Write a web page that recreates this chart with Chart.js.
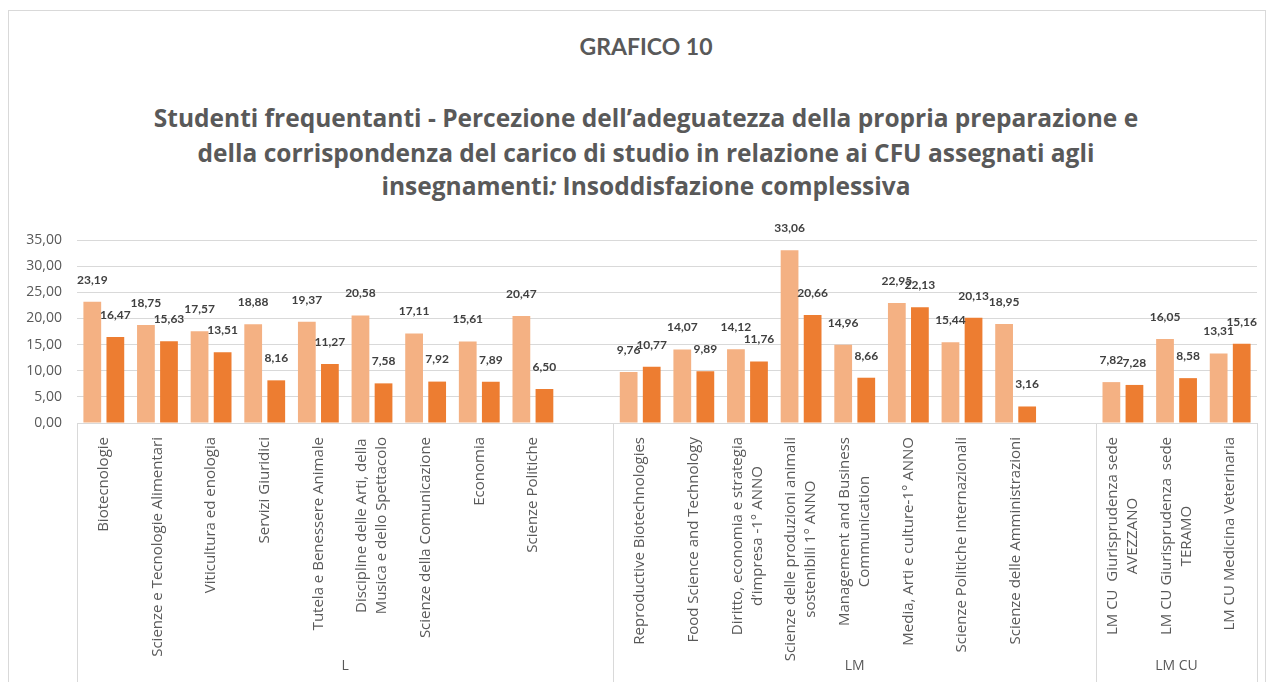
<!DOCTYPE html>
<html lang="it">
<head>
<meta charset="UTF-8">
<title>Grafico 10</title>
<script src="https://cdn.jsdelivr.net/npm/chart.js@4"></script>
<style>
  body { margin: 0; width: 1273px; height: 682px; overflow: hidden; background: #fff; font-family: Lato, sans-serif; }
  #frame { position: absolute; left: 8px; top: 10px; width: 1258px; height: 700px; border: 1px solid #d9d9d9; box-sizing: border-box; }
  .t { position: absolute; left: 646px; transform: translateX(-50%); white-space: nowrap; font-weight: bold; color: #595959; font-size: 23px; line-height: 1.2; }
  .m { font-family: "Open Sans", sans-serif; font-size: 24.5px; }
  #wrap { position: absolute; left: 9px; top: 215px; width: 1255px; height: 467px; }
</style>
</head>
<body>
<div id="frame"></div>
<div class="t" style="top:33px">GRAFICO 10</div>
<div class="t m" style="top:103px">Studenti frequentanti - Percezione dell’adeguatezza della propria preparazione e</div>
<div class="t m" style="top:138px">della corrispondenza del carico di studio in relazione ai CFU assegnati agli</div>
<div class="t m" style="top:171px">insegnamenti<i>:</i> Insoddisfazione complessiva</div>
<div id="wrap"><canvas id="chart" width="1255" height="467"></canvas></div>

<script>
// groups of the category axis
const groups = ['L', 'LM', 'LM CU'];

const catL = [
  'Biotecnologie',
  'Scienze e Tecnologie Alimentari',
  'Viticultura ed enologia',
  'Servizi Giuridici',
  'Tutela e Benessere Animale',
  ['Discipline delle Arti, della', 'Musica e dello Spettacolo'],
  'Scienze della Comunicazione',
  'Economia',
  'Scienze Politiche'
];
const catLM = [
  'Reproductive Biotechnologies',
  'Food Science and Technology',
  ['Diritto, economia e strategia', 'd’impresa -1° ANNO'],
  ['Scienze delle produzioni animali', 'sostenibili 1° ANNO'],
  ['Management and Business', 'Communication'],
  'Media, Arti e culture-1° ANNO',
  'Scienze Politiche Internazionali',
  'Scienze delle Amministrazioni'
];
const catLMCU = [
  ['LM CU  Giurisprudenza sede', 'AVEZZANO'],
  ['LM CU Giurisprudenza  sede', 'TERAMO'],
  'LM CU Medicina Veterinaria'
];

// light orange series
const serie1L = [23.19, 18.75, 17.57, 18.88, 19.37, 20.58, 17.11, 15.61, 20.47];
const serie1LM = [9.76, 14.07, 14.12, 33.06, 14.96, 22.95, 15.44, 18.95];
const serie1LMCU = [7.82, 16.05, 13.31];
// dark orange series
const serie2L = [16.47, 15.63, 13.51, 8.16, 11.27, 7.58, 7.92, 7.89, 6.50];
const serie2LM = [10.77, 9.89, 11.76, 20.66, 8.66, 22.13, 20.13, 3.16];
const serie2LMCU = [7.28, 8.58, 15.16];

const yTicks = [0, 5, 10, 15, 20, 25, 30, 35];

// flatten groups, leaving an empty slot after each group but the last
const groupCats = [catL, catLM, catLMCU];
const groupS1 = [serie1L, serie1LM, serie1LMCU];
const groupS2 = [serie2L, serie2LM, serie2LMCU];
const labels = [], s1 = [], s2 = [], groupRanges = [];
groups.forEach((g, gi) => {
  const start = labels.length;
  labels.push(...groupCats[gi]);
  s1.push(...groupS1[gi]);
  s2.push(...groupS2[gi]);
  if (gi < groups.length - 1) { labels.push(''); s1.push(null); s2.push(null); }
  groupRanges.push({ name: g, start: start, end: labels.length - 1 });
});

const fmt = v => v.toFixed(2).replace('.', ',');

// value labels above bars
const valueLabels = {
  id: 'valueLabels',
  afterDatasetsDraw(chart) {
    const ctx = chart.ctx;
    ctx.save();
    ctx.font = 'bold 12px Lato';
    ctx.fillStyle = '#404040';
    ctx.textAlign = 'center';
    ctx.textBaseline = 'middle';
    chart.data.datasets.forEach((ds, di) => {
      chart.getDatasetMeta(di).data.forEach((bar, i) => {
        const v = ds.data[i];
        if (v == null) return;
        ctx.fillText(fmt(v), bar.x, bar.y - 22);
      });
    });
    ctx.restore();
  }
};

// two-level category axis: rotated names, group boxes and group names
const groupAxis = {
  id: 'groupAxis',
  afterDraw(chart) {
    const ctx = chart.ctx, x = chart.scales.x, area = chart.chartArea;
    const step = x.getPixelForValue(1) - x.getPixelForValue(0);
    ctx.save();
    ctx.strokeStyle = '#d9d9d9';
    ctx.lineWidth = 1;
    const edges = [x.getPixelForValue(0) - step / 2].concat(groupRanges.map(r => x.getPixelForValue(r.end) + step / 2));
    edges.forEach(px => {
      const p = Math.round(px) + 0.5;
      ctx.beginPath();
      ctx.moveTo(p, area.bottom);
      ctx.lineTo(p, chart.height);
      ctx.stroke();
    });

    ctx.fillStyle = '#595959';
    ctx.font = '15px "Open Sans"';
    ctx.textAlign = 'center';
    ctx.textBaseline = 'middle';
    const lh = 20, top = area.bottom + 14;
    labels.forEach((lab, i) => {
      if (!lab) return;
      const lines = Array.isArray(lab) ? lab : [lab];
      const maxW = Math.max(...lines.map(l => ctx.measureText(l).width));
      const cx = x.getPixelForValue(i), cy = top + maxW / 2;
      lines.forEach((line, li) => {
        ctx.save();
        ctx.translate(cx + (li - (lines.length - 1) / 2) * lh, cy);
        ctx.rotate(-Math.PI / 2);
        ctx.fillText(line, 0, 0);
        ctx.restore();
      });
    });

    ctx.font = '14px "Open Sans"';
    groupRanges.forEach(r => {
      const gx = (x.getPixelForValue(r.start) + x.getPixelForValue(r.end)) / 2;
      ctx.fillText(r.name, gx, chart.height - 16);
    });
    ctx.restore();
  }
};

new Chart(document.getElementById('chart'), {
  type: 'bar',
  data: {
    labels: labels,
    datasets: [
      { data: s1, backgroundColor: '#F4B183', categoryPercentage: 0.86, barPercentage: 0.77 },
      { data: s2, backgroundColor: '#ED7D31', categoryPercentage: 0.86, barPercentage: 0.77 }
    ]
  },
  options: {
    responsive: false,
    animation: false,
    devicePixelRatio: 1,
    layout: { padding: { top: 25, right: 7, left: 0, bottom: 0 } },
    plugins: { legend: { display: false }, tooltip: { enabled: false } },
    scales: {
      x: {
        grid: { display: false },
        border: { display: false },
        ticks: { display: false },
        afterFit: s => { s.height = 259; }
      },
      y: {
        min: 0,
        max: 35,
        afterBuildTicks: s => { s.ticks = yTicks.map(v => ({ value: v })); },
        ticks: { callback: v => fmt(v), color: '#595959', font: { family: 'Open Sans', size: 14 }, padding: 15 },
        grid: { color: '#d9d9d9', drawTicks: false },
        border: { display: false },
        afterFit: s => { s.width = 68; }
      }
    }
  },
  plugins: [valueLabels, groupAxis]
});
</script>
</body>
</html>
